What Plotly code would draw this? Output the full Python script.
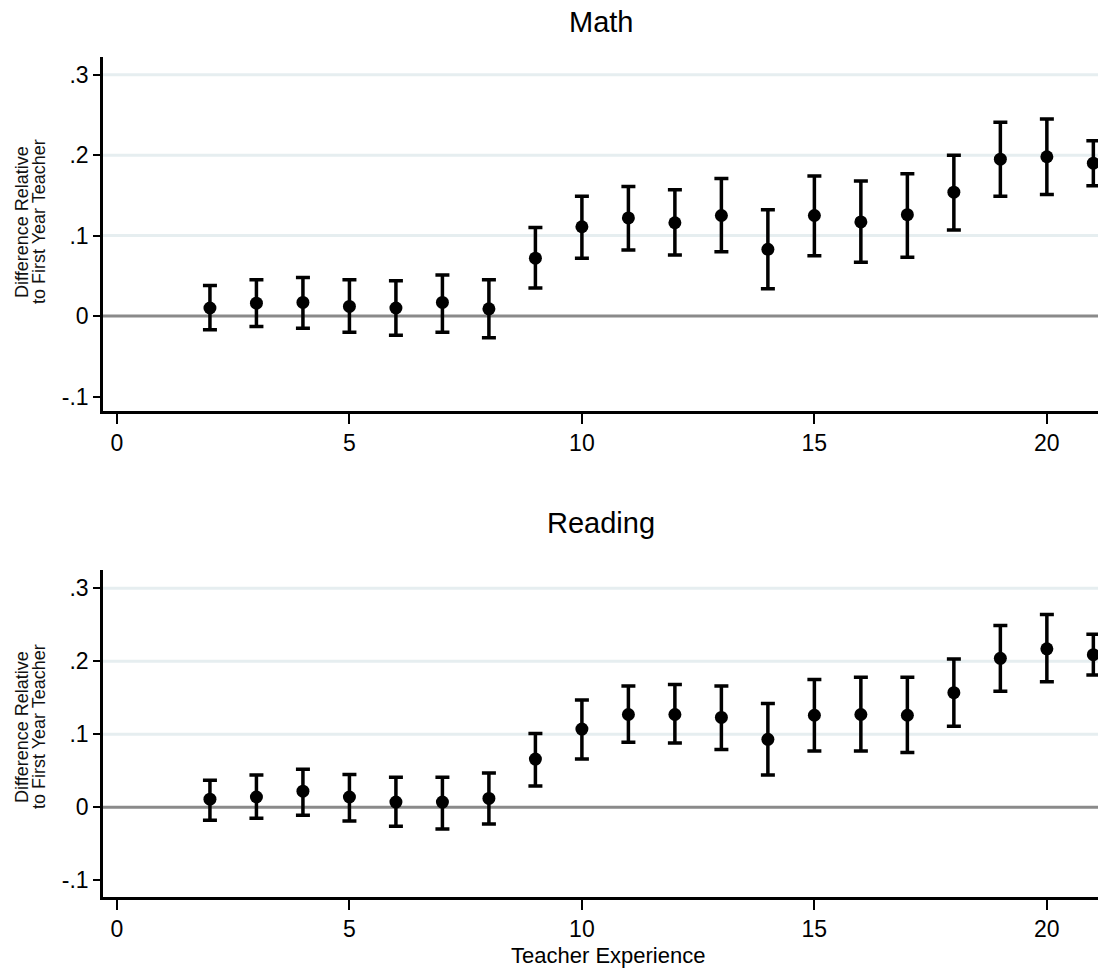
import plotly.graph_objects as go

W, H = 1098, 971

# ---- data ----
experience = list(range(2, 22))

math_est = [0.010, 0.016, 0.017, 0.012, 0.010, 0.017, 0.009, 0.072, 0.111, 0.122,
            0.116, 0.125, 0.083, 0.125, 0.117, 0.126, 0.154, 0.195, 0.198, 0.190]
math_hi = [0.038, 0.045, 0.048, 0.045, 0.044, 0.051, 0.045, 0.110, 0.149, 0.161,
           0.157, 0.171, 0.132, 0.174, 0.168, 0.177, 0.200, 0.241, 0.245, 0.218]
math_lo = [-0.017, -0.013, -0.015, -0.020, -0.024, -0.020, -0.027, 0.035, 0.072, 0.082,
           0.076, 0.080, 0.034, 0.075, 0.067, 0.073, 0.107, 0.149, 0.151, 0.162]

read_est = [0.011, 0.014, 0.022, 0.014, 0.007, 0.007, 0.012, 0.066, 0.107, 0.127,
            0.127, 0.123, 0.093, 0.126, 0.127, 0.126, 0.157, 0.204, 0.217, 0.209]
read_hi = [0.037, 0.044, 0.052, 0.045, 0.041, 0.041, 0.047, 0.101, 0.147, 0.166,
           0.168, 0.166, 0.142, 0.175, 0.178, 0.178, 0.203, 0.249, 0.264, 0.237]
read_lo = [-0.018, -0.015, -0.011, -0.019, -0.026, -0.030, -0.023, 0.029, 0.066, 0.089,
           0.088, 0.079, 0.044, 0.077, 0.077, 0.075, 0.111, 0.159, 0.172, 0.181]

x_ticks = [0, 5, 10, 15, 20]
y_ticks = [-0.1, 0, 0.1, 0.2, 0.3]
y_ticktext = ["-.1", "0", ".1", ".2", ".3"]
grid_vals = [0.1, 0.2, 0.3]

panel_titles = ["Math", "Reading"]
y_title_lines = ["Difference Relative", "to First Year Teacher"]
x_title = "Teacher Experience"

FONT = "Liberation Sans, Arial, sans-serif"


def py(px):
    return 1 - px / H


fig = go.Figure()

for est, hi, lo, xa, ya in [(math_est, math_hi, math_lo, "x", "y"),
                            (read_est, read_hi, read_lo, "x2", "y2")]:
    fig.add_trace(go.Scatter(
        x=experience, y=est, mode="markers",
        marker=dict(color="black", size=13, symbol="circle"),
        error_y=dict(type="data", symmetric=False,
                     array=[h - e for h, e in zip(hi, est)],
                     arrayminus=[e - l for e, l in zip(est, lo)],
                     color="black", thickness=3.5, width=7),
        xaxis=xa, yaxis=ya, showlegend=False, hoverinfo="skip"))

xdom = [103 / W, 1.0]
axis_common_x = dict(range=[-0.3, 21.1], tickvals=x_ticks, ticks="outside", ticklen=10,
                     tickwidth=2, tickcolor="black", showline=True, linecolor="black",
                     linewidth=2.5, showgrid=False, zeroline=False,
                     tickfont=dict(family=FONT, size=23, color="black"))
axis_common_y = dict(tickvals=y_ticks, ticktext=y_ticktext, ticks="outside", ticklen=7,
                     tickwidth=2, tickcolor="black", showline=True, linecolor="black",
                     linewidth=2.5, showgrid=False, zeroline=False,
                     tickfont=dict(family=FONT, size=23, color="black"))

fig.update_layout(
    width=W, height=H, margin=dict(l=0, r=0, t=0, b=0),
    paper_bgcolor="white", plot_bgcolor="white", showlegend=False,
    xaxis=dict(domain=xdom, anchor="y", **axis_common_x),
    yaxis=dict(domain=[py(411), py(57)], range=[-0.118, 0.322], anchor="x", **axis_common_y),
    xaxis2=dict(domain=xdom, anchor="y2", **axis_common_x),
    yaxis2=dict(domain=[py(897), py(570)], range=[-0.123, 0.325], anchor="x2", **axis_common_y),
)

shapes = []
for yref, xref in [("y", "x domain"), ("y2", "x2 domain")]:
    for g in grid_vals:
        shapes.append(dict(type="line", xref=xref, yref=yref, x0=0, x1=1, y0=g, y1=g,
                           line=dict(color="#E6EEF0", width=3), layer="below"))
    shapes.append(dict(type="line", xref=xref, yref=yref, x0=0, x1=1, y0=0, y1=0,
                       line=dict(color="#8A8A8A", width=3), layer="below"))
fig.update_layout(shapes=shapes)

annotations = []
# panel titles
for title, ypx in zip(panel_titles, [22, 523]):
    annotations.append(dict(text=title, xref="paper", yref="paper", x=(103 + W) / 2 / W,
                            y=py(ypx), xanchor="center", yanchor="middle", showarrow=False,
                            font=dict(family=FONT, size=29, color="black")))
# y-axis titles (two lines each)
for ycenter in [222, 727]:
    for line, xpx in zip(y_title_lines, [22, 39]):
        annotations.append(dict(text=line, xref="paper", yref="paper", x=xpx / W,
                                y=py(ycenter), xanchor="center", yanchor="middle",
                                textangle=-90, showarrow=False,
                                font=dict(family=FONT, size=18, color="#111111")))
# x-axis title
annotations.append(dict(text=x_title, xref="paper", yref="paper", x=608 / W, y=py(955),
                        xanchor="center", yanchor="middle", showarrow=False,
                        font=dict(family=FONT, size=22, color="black")))
fig.update_layout(annotations=annotations)

fig.write_html(
    "out.html",
    config={"displayModeBar": False},
    post_script="document.body.style.margin='0';document.body.style.overflow='hidden';",
)
